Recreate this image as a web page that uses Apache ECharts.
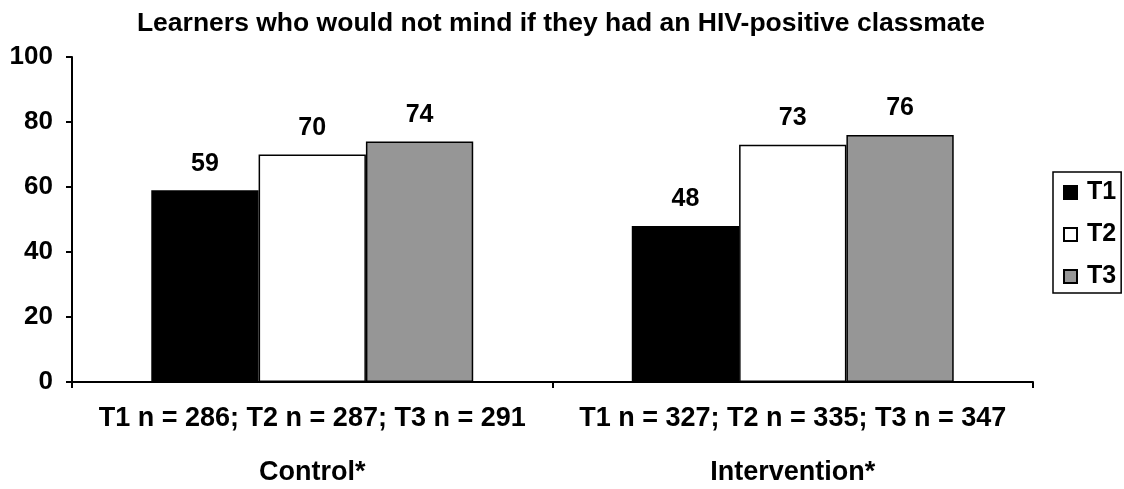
<!DOCTYPE html>
<html><head><meta charset="utf-8">
<script src="https://cdn.jsdelivr.net/npm/echarts@6/dist/echarts.min.js"></script>
<style>html,body{margin:0;padding:0;background:#fff}#c{width:1124px;height:489px}</style>
</head><body><div id="c"></div>
<script>
var categories = ['T1 n = 286; T2 n = 287; T3 n = 291\nControl*', 'T1 n = 327; T2 n = 335; T3 n = 347\nIntervention*'];
var seriesNames = ['T1', 'T2', 'T3'];
var t1 = [59, 48];
var t2 = [70, 73];
var t3 = [74, 76];
var yTicks = [0, 20, 40, 60, 80, 100];
var fills = ['#000000', '#ffffff', '#969696'];
var font = '"Liberation Sans", Arial, sans-serif';
var vals = [t1, t2, t3];
var series = seriesNames.map(function (n, i) {
  return {
    name: n, type: 'bar', data: vals[i], barGap: 0, barCategoryGap: '33%',
    itemStyle: { color: fills[i], borderColor: '#000', borderWidth: 1.5 },
    label: { show: true, position: 'top', distance: 14, color: '#000', fontWeight: 'bold', fontSize: 25, fontFamily: font },
    animation: false
  };
});
var chart = echarts.init(document.getElementById('c'));
chart.setOption({
  animation: false,
  title: { text: 'Learners who would not mind if they had an HIV-positive classmate', left: 556, textAlign: 'center', top: 5,
    textStyle: { fontSize: 26.5, fontWeight: 'bold', color: '#000', fontFamily: font } },
  grid: { left: 72, right: 91, top: 57, bottom: 107, outerBoundsMode: 'none', containLabel: false },
  legend: {
    orient: 'vertical', left: 1053, top: 172, data: seriesNames,
    borderColor: '#000', borderWidth: 1.5, padding: [8, 5, 4, 10],
    itemWidth: 13, itemHeight: 13, itemGap: 17, icon: 'rect',
    textStyle: { fontSize: 25, fontWeight: 'bold', color: '#000', fontFamily: font, padding: [0, 0, 0, 5] }
  },
  xAxis: {
    type: 'category', data: categories,
    axisLine: { lineStyle: { color: '#000', width: 2 } },
    axisTick: { show: true, length: 6, lineStyle: { color: '#000', width: 2 } },
    axisLabel: { color: '#000', fontWeight: 'bold', fontSize: 27, fontFamily: font, lineHeight: 54, margin: 10, interval: 0 }
  },
  yAxis: {
    type: 'value', min: 0, max: 100, interval: 20,
    axisLine: { show: true, lineStyle: { color: '#000', width: 2 } },
    axisTick: { show: true, length: 6, lineStyle: { color: '#000', width: 2 } },
    splitLine: { show: false },
    axisLabel: { color: '#000', fontWeight: 'bold', fontSize: 26, fontFamily: font, margin: 19,
      formatter: function (v) { return yTicks.indexOf(v) >= 0 ? String(v) : ''; } }
  },
  series: series
});
</script></body></html>
